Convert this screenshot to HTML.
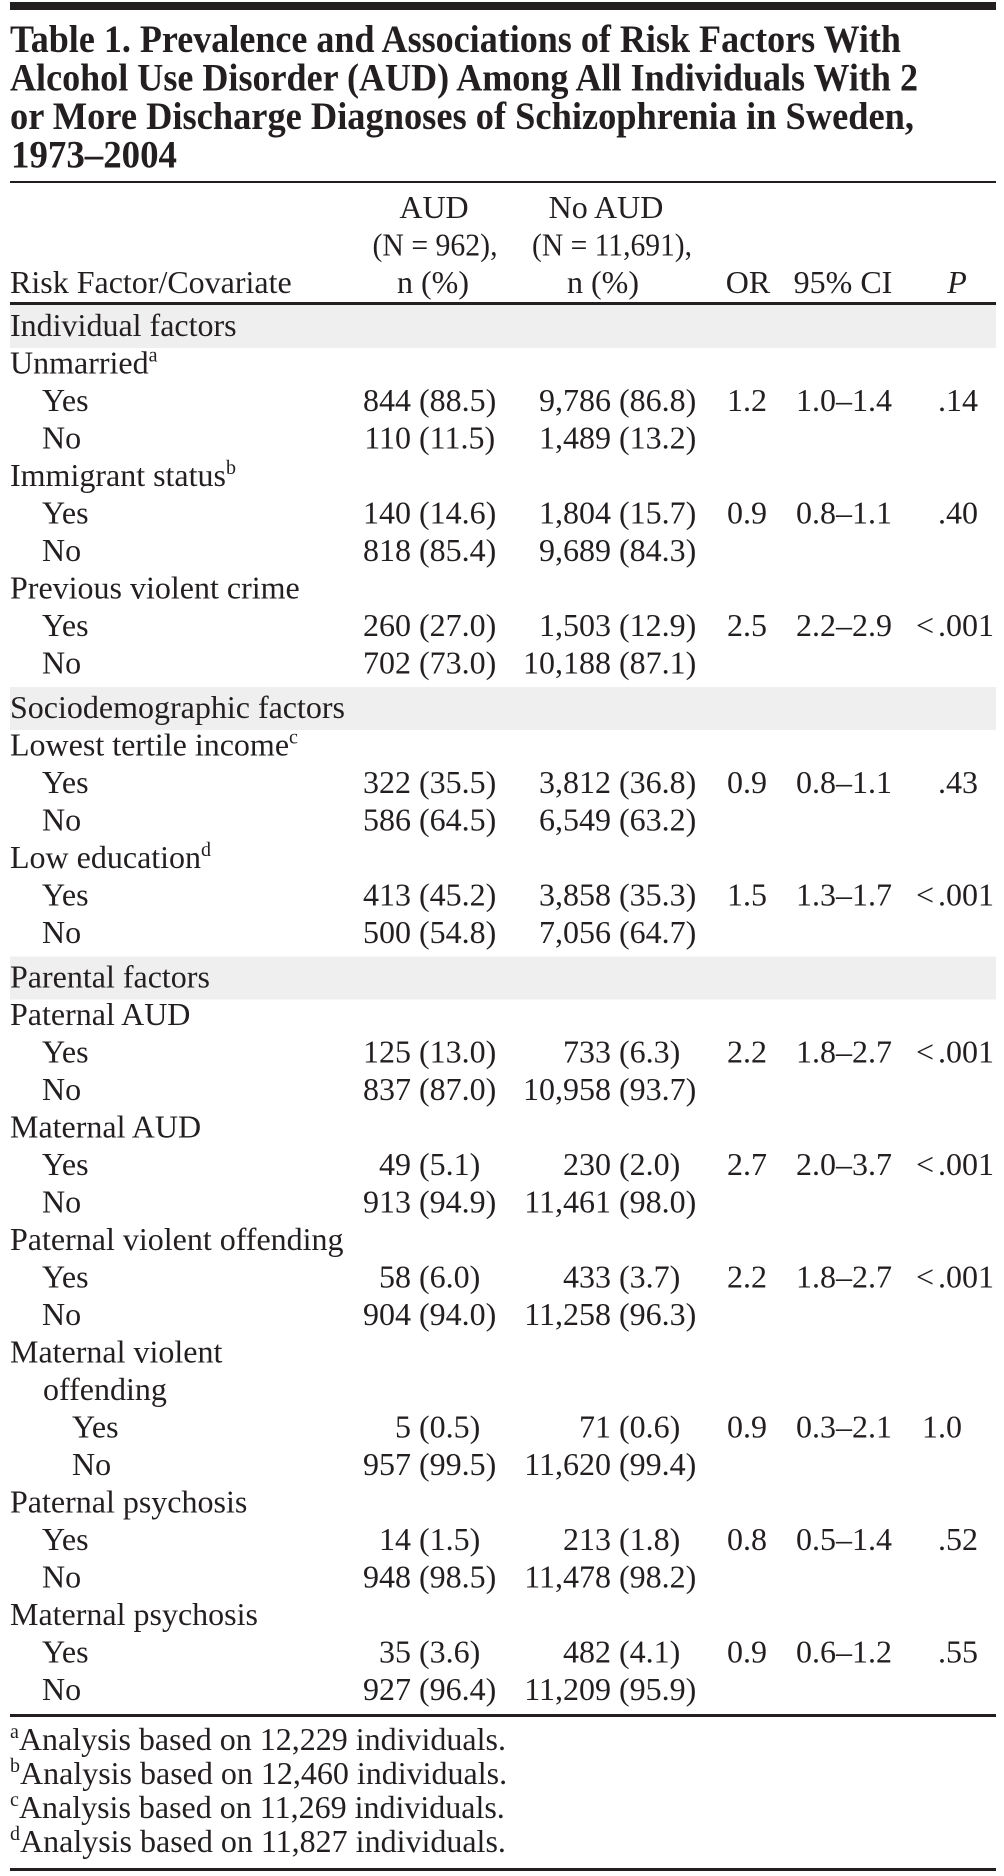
<!DOCTYPE html>
<html>
<head>
<meta charset="utf-8">
<style>
  html, body { margin:0; padding:0; background:#ffffff; }
  svg { display:block; }
  text { font-family: "Liberation Serif", "DejaVu Serif", serif; fill:#231f20; }
</style>
</head>
<body>
<svg width="1004" height="1876" viewBox="0 0 1004 1876" xmlns="http://www.w3.org/2000/svg">
  <rect x="0" y="0" width="1004" height="1876" fill="#ffffff"/>

  <!-- top thick bar -->
  <rect x="10" y="2" width="986" height="8" fill="#231f20"/>

  <!-- Title -->
  <g font-size="39" font-weight="bold">
    <text x="10" y="52" textLength="891" lengthAdjust="spacingAndGlyphs">Table 1. Prevalence and Associations of Risk Factors With</text>
    <text x="10" y="90.5" textLength="908" lengthAdjust="spacingAndGlyphs">Alcohol Use Disorder (AUD) Among All Individuals With 2</text>
    <text x="10" y="129" textLength="904" lengthAdjust="spacingAndGlyphs">or More Discharge Diagnoses of Schizophrenia in Sweden,</text>
    <text x="11" y="167.5" textLength="166" lengthAdjust="spacingAndGlyphs">1973–2004</text>
  </g>

  <!-- rule under title -->
  <rect x="10" y="181" width="986" height="2" fill="#231f20"/>

  <!-- Header -->
  <g font-size="32">
    <text x="434" y="218" text-anchor="middle">AUD</text>
    <text x="435" y="255.5" text-anchor="middle" textLength="125" lengthAdjust="spacingAndGlyphs">(N = 962),</text>
    <text x="433" y="293" text-anchor="middle">n (%)</text>

    <text x="606" y="218" text-anchor="middle">No AUD</text>
    <text x="612" y="255.5" text-anchor="middle" textLength="160" lengthAdjust="spacingAndGlyphs">(N = 11,691),</text>
    <text x="603" y="293" text-anchor="middle">n (%)</text>

    <text x="10" y="293">Risk Factor/Covariate</text>
    <text x="748" y="293" text-anchor="middle">OR</text>
    <text x="843" y="293" text-anchor="middle">95% CI</text>
    <text x="957" y="293" text-anchor="middle" font-style="italic">P</text>
  </g>

  <!-- header rule -->
  <rect x="10" y="302" width="986" height="3" fill="#231f20"/>

  <!-- gray bands -->
  <rect x="10" y="305" width="986" height="43" fill="#efefef"/>
  <rect x="10" y="687" width="986" height="43" fill="#efefef"/>
  <rect x="10" y="956.5" width="986" height="43" fill="#efefef"/>

  <g font-size="32">
    <!-- Labels -->
    <text x="10" y="336">Individual factors</text>
    <text x="10" y="373.5">Unmarried<tspan font-size="20" dy="-12">a</tspan></text>
    <text x="42" y="411">Yes</text>
    <text x="42" y="448.5">No</text>
    <text x="10" y="486">Immigrant status<tspan font-size="20" dy="-12">b</tspan></text>
    <text x="42" y="523.5">Yes</text>
    <text x="42" y="561">No</text>
    <text x="10" y="598.5">Previous violent crime</text>
    <text x="42" y="636">Yes</text>
    <text x="42" y="673.5">No</text>

    <text x="10" y="718">Sociodemographic factors</text>
    <text x="10" y="755.5">Lowest tertile income<tspan font-size="20" dy="-12">c</tspan></text>
    <text x="42" y="793">Yes</text>
    <text x="42" y="830.5">No</text>
    <text x="10" y="868">Low education<tspan font-size="20" dy="-12">d</tspan></text>
    <text x="42" y="905.5">Yes</text>
    <text x="42" y="943">No</text>

    <text x="10" y="987.5">Parental factors</text>
    <text x="10" y="1025">Paternal AUD</text>
    <text x="42" y="1062.5">Yes</text>
    <text x="42" y="1100">No</text>
    <text x="10" y="1137.5">Maternal AUD</text>
    <text x="42" y="1175">Yes</text>
    <text x="42" y="1212.5">No</text>
    <text x="10" y="1250">Paternal violent offending</text>
    <text x="42" y="1287.5">Yes</text>
    <text x="42" y="1325">No</text>
    <text x="10" y="1362.5">Maternal violent</text>
    <text x="43" y="1400">offending</text>
    <text x="72" y="1437.5">Yes</text>
    <text x="72" y="1475">No</text>
    <text x="10" y="1512.5">Paternal psychosis</text>
    <text x="42" y="1550">Yes</text>
    <text x="42" y="1587.5">No</text>
    <text x="10" y="1625">Maternal psychosis</text>
    <text x="42" y="1662.5">Yes</text>
    <text x="42" y="1700">No</text>

    <!-- AUD counts (right edge 411), percents (start 419) -->
    <g text-anchor="end">
      <text x="411" y="411">844</text>
      <text x="411" y="448.5">110</text>
      <text x="411" y="523.5">140</text>
      <text x="411" y="561">818</text>
      <text x="411" y="636">260</text>
      <text x="411" y="673.5">702</text>
      <text x="411" y="793">322</text>
      <text x="411" y="830.5">586</text>
      <text x="411" y="905.5">413</text>
      <text x="411" y="943">500</text>
      <text x="411" y="1062.5">125</text>
      <text x="411" y="1100">837</text>
      <text x="411" y="1175">49</text>
      <text x="411" y="1212.5">913</text>
      <text x="411" y="1287.5">58</text>
      <text x="411" y="1325">904</text>
      <text x="411" y="1437.5">5</text>
      <text x="411" y="1475">957</text>
      <text x="411" y="1550">14</text>
      <text x="411" y="1587.5">948</text>
      <text x="411" y="1662.5">35</text>
      <text x="411" y="1700">927</text>
    </g>
    <g>
      <text x="419" y="411">(88.5)</text>
      <text x="419" y="448.5">(11.5)</text>
      <text x="419" y="523.5">(14.6)</text>
      <text x="419" y="561">(85.4)</text>
      <text x="419" y="636">(27.0)</text>
      <text x="419" y="673.5">(73.0)</text>
      <text x="419" y="793">(35.5)</text>
      <text x="419" y="830.5">(64.5)</text>
      <text x="419" y="905.5">(45.2)</text>
      <text x="419" y="943">(54.8)</text>
      <text x="419" y="1062.5">(13.0)</text>
      <text x="419" y="1100">(87.0)</text>
      <text x="419" y="1175">(5.1)</text>
      <text x="419" y="1212.5">(94.9)</text>
      <text x="419" y="1287.5">(6.0)</text>
      <text x="419" y="1325">(94.0)</text>
      <text x="419" y="1437.5">(0.5)</text>
      <text x="419" y="1475">(99.5)</text>
      <text x="419" y="1550">(1.5)</text>
      <text x="419" y="1587.5">(98.5)</text>
      <text x="419" y="1662.5">(3.6)</text>
      <text x="419" y="1700">(96.4)</text>
    </g>

    <!-- No AUD counts (right edge 611), percents (start 619) -->
    <g text-anchor="end">
      <text x="611" y="411">9,786</text>
      <text x="611" y="448.5">1,489</text>
      <text x="611" y="523.5">1,804</text>
      <text x="611" y="561">9,689</text>
      <text x="611" y="636">1,503</text>
      <text x="611" y="673.5">10,188</text>
      <text x="611" y="793">3,812</text>
      <text x="611" y="830.5">6,549</text>
      <text x="611" y="905.5">3,858</text>
      <text x="611" y="943">7,056</text>
      <text x="611" y="1062.5">733</text>
      <text x="611" y="1100">10,958</text>
      <text x="611" y="1175">230</text>
      <text x="611" y="1212.5">11,461</text>
      <text x="611" y="1287.5">433</text>
      <text x="611" y="1325">11,258</text>
      <text x="611" y="1437.5">71</text>
      <text x="611" y="1475">11,620</text>
      <text x="611" y="1550">213</text>
      <text x="611" y="1587.5">11,478</text>
      <text x="611" y="1662.5">482</text>
      <text x="611" y="1700">11,209</text>
    </g>
    <g>
      <text x="619" y="411">(86.8)</text>
      <text x="619" y="448.5">(13.2)</text>
      <text x="619" y="523.5">(15.7)</text>
      <text x="619" y="561">(84.3)</text>
      <text x="619" y="636">(12.9)</text>
      <text x="619" y="673.5">(87.1)</text>
      <text x="619" y="793">(36.8)</text>
      <text x="619" y="830.5">(63.2)</text>
      <text x="619" y="905.5">(35.3)</text>
      <text x="619" y="943">(64.7)</text>
      <text x="619" y="1062.5">(6.3)</text>
      <text x="619" y="1100">(93.7)</text>
      <text x="619" y="1175">(2.0)</text>
      <text x="619" y="1212.5">(98.0)</text>
      <text x="619" y="1287.5">(3.7)</text>
      <text x="619" y="1325">(96.3)</text>
      <text x="619" y="1437.5">(0.6)</text>
      <text x="619" y="1475">(99.4)</text>
      <text x="619" y="1550">(1.8)</text>
      <text x="619" y="1587.5">(98.2)</text>
      <text x="619" y="1662.5">(4.1)</text>
      <text x="619" y="1700">(95.9)</text>
    </g>

    <!-- OR -->
    <g text-anchor="middle">
      <text x="747" y="411">1.2</text>
      <text x="747" y="523.5">0.9</text>
      <text x="747" y="636">2.5</text>
      <text x="747" y="793">0.9</text>
      <text x="747" y="905.5">1.5</text>
      <text x="747" y="1062.5">2.2</text>
      <text x="747" y="1175">2.7</text>
      <text x="747" y="1287.5">2.2</text>
      <text x="747" y="1437.5">0.9</text>
      <text x="747" y="1550">0.8</text>
      <text x="747" y="1662.5">0.9</text>
    </g>

    <!-- 95% CI -->
    <g text-anchor="middle">
      <text x="844" y="411">1.0–1.4</text>
      <text x="844" y="523.5">0.8–1.1</text>
      <text x="844" y="636">2.2–2.9</text>
      <text x="844" y="793">0.8–1.1</text>
      <text x="844" y="905.5">1.3–1.7</text>
      <text x="844" y="1062.5">1.8–2.7</text>
      <text x="844" y="1175">2.0–3.7</text>
      <text x="844" y="1287.5">1.8–2.7</text>
      <text x="844" y="1437.5">0.3–2.1</text>
      <text x="844" y="1550">0.5–1.4</text>
      <text x="844" y="1662.5">0.6–1.2</text>
    </g>

    <!-- P (decimal at 938) -->
    <g>
      <text x="938" y="411">.14</text>
      <text x="938" y="523.5">.40</text>
      <text x="938" y="636">.001</text>
      <text x="938" y="793">.43</text>
      <text x="938" y="905.5">.001</text>
      <text x="938" y="1062.5">.001</text>
      <text x="938" y="1175">.001</text>
      <text x="938" y="1287.5">.001</text>
      <text x="922" y="1437.5">1.0</text>
      <text x="938" y="1550">.52</text>
      <text x="938" y="1662.5">.55</text>
    </g>
    <g text-anchor="end">
      <text x="934" y="636">&lt;</text>
      <text x="934" y="905.5">&lt;</text>
      <text x="934" y="1062.5">&lt;</text>
      <text x="934" y="1175">&lt;</text>
      <text x="934" y="1287.5">&lt;</text>
    </g>
  </g>

  <!-- table bottom rule -->
  <rect x="10" y="1714" width="986" height="3" fill="#231f20"/>

  <!-- Footnotes -->
  <g font-size="32">
    <text x="10" y="1750"><tspan font-size="20" dy="-12">a</tspan><tspan dy="12">Analysis based on 12,229 individuals.</tspan></text>
    <text x="10" y="1784"><tspan font-size="20" dy="-12">b</tspan><tspan dy="12">Analysis based on 12,460 individuals.</tspan></text>
    <text x="10" y="1818"><tspan font-size="20" dy="-12">c</tspan><tspan dy="12">Analysis based on 11,269 individuals.</tspan></text>
    <text x="10" y="1852"><tspan font-size="20" dy="-12">d</tspan><tspan dy="12">Analysis based on 11,827 individuals.</tspan></text>
  </g>

  <!-- final rule -->
  <rect x="10" y="1868" width="986" height="3" fill="#231f20"/>
</svg>
</body>
</html>
